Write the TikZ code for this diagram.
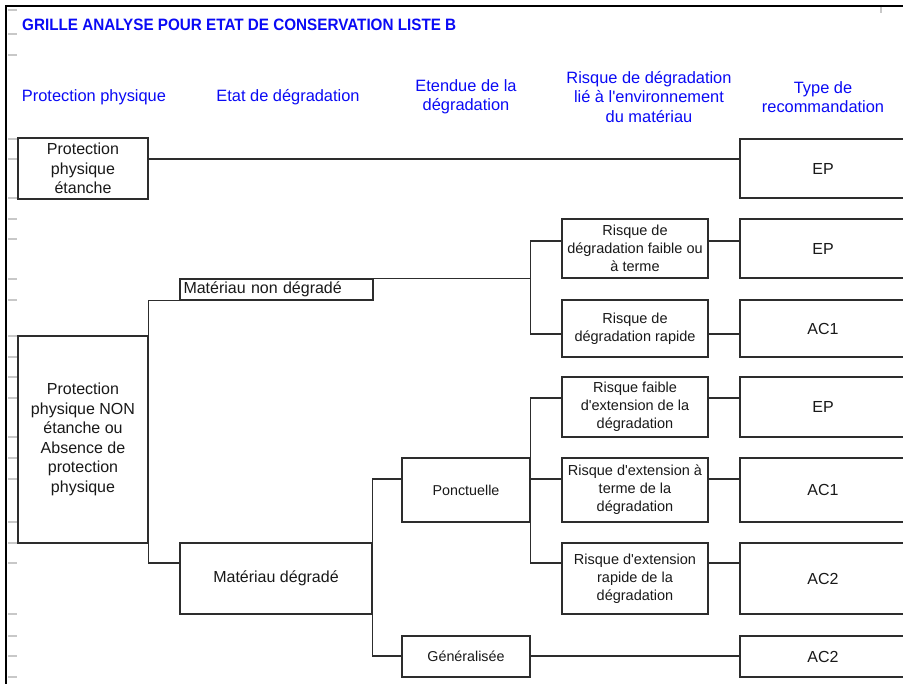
\documentclass[tikz,border=0pt]{standalone}
\usepackage{fontspec}
\setmainfont{Liberation Sans}[Ligatures=TeXOff]
\usepackage{graphicx}
\definecolor{hdrblue}{RGB}{10,10,245}
\definecolor{lnc}{RGB}{45,45,45}
\definecolor{tickc}{RGB}{200,200,200}
\begin{document}
\begin{tikzpicture}[x=1pt,y=-1pt,
  box/.style={draw=lnc, line width=1.2pt, fill=white, inner sep=0pt, align=center,
    font=\fontsize{16}{19.5}\selectfont, text=black!90},
  smallbox/.style={box, font=\fontsize{14.5}{18}\selectfont},
  midbox/.style={box, font=\fontsize{14.3}{18}\selectfont},
  hdr/.style={text=hdrblue, align=center, font=\fontsize{16.4}{19.5}\selectfont, inner sep=0pt},
  conn/.style={draw=lnc, line width=1.2pt},
  tick/.style={draw=tickc, line width=1.2pt}]
\useasboundingbox (0,0) rectangle (903,684);
\clip (0,0) rectangle (903,684);
\fill[white] (0,0) rectangle (903,684);
% frame
\draw[black, line width=2pt] (6,684) -- (6,6) -- (903,6);
% spreadsheet row ticks
\foreach \yy in {10,34,55,139,159,198,219,239,279,300,336,357,377,398,437,458,479,522,543,563,614,636,656,677}
  \draw[tick] (8,\yy) -- (17,\yy);
\draw[tick] (881,7) -- (881,13);
% title
\node[anchor=base west, inner sep=0pt, text=hdrblue] (title) at (22,30.5)
  {\resizebox{434pt}{11.5pt}{\bfseries GRILLE ANALYSE POUR ETAT DE CONSERVATION LISTE B}};
% headers
\node[hdr] (h1) at (94,97) {Protection physique};
\node[hdr] (h2) at (288,97) {Etat de dégradation};
\node[hdr] (h3) at (466,97) {Etendue de la\\dégradation};
\node[hdr] (h4) at (649,97) {Risque de dégradation\\lié à l'environnement\\du matériau};
\node[hdr] (h5) at (823,97) {Type de\\recommandation};
% row coordinates
\foreach \yy in {159,241,279,334,398,479,563,656}
  \coordinate (y\yy) at (0,\yy);
% column 1
\node[box, minimum width=130pt, minimum height=61pt] (ppe) at (83,168.5) {Protection\\physique\\étanche};
\node[box, minimum width=130pt, minimum height=207pt] (ppne) at (83,439.5) {Protection\\physique NON\\étanche ou\\Absence de\\protection\\physique};
% column 2
\node[box, minimum width=193pt, minimum height=21pt, text width=186pt, inner xsep=3.5pt, align=left] (mnd) at (276.5,289.5) {Matériau non dégradé};
\node[box, minimum width=192pt, minimum height=71pt] (md) at (276,578.5) {Matériau dégradé};
% column 3
\node[midbox, minimum width=128pt, minimum height=64pt] (pon) at (466,490) {Ponctuelle};
\node[midbox, minimum width=128pt, minimum height=41pt] (gen) at (466,656.5) {Généralisée};
% column 4
\node[smallbox, minimum width=146pt, minimum height=59pt] (r1) at (635,248.5) {Risque de\\dégradation faible ou\\à terme};
\node[smallbox, minimum width=146pt, minimum height=57pt] (r2) at (635,328.5) {Risque de\\dégradation rapide};
\node[smallbox, minimum width=146pt, minimum height=60pt] (r3) at (635,407) {Risque faible\\d'extension de la\\dégradation};
\node[smallbox, minimum width=146pt, minimum height=64pt] (r4) at (635,490) {Risque d'extension à\\terme de la\\dégradation};
\node[smallbox, minimum width=146pt, minimum height=71pt] (r5) at (635,578.5) {Risque d'extension\\rapide de la\\dégradation};
% column 5
\node[box, minimum width=166pt, minimum height=59pt] (t1) at (823,168.5) {EP};
\node[box, minimum width=166pt, minimum height=59pt] (t2) at (823,248.5) {EP};
\node[box, minimum width=166pt, minimum height=57pt] (t3) at (823,328.5) {AC1};
\node[box, minimum width=166pt, minimum height=60pt] (t4) at (823,407) {EP};
\node[box, minimum width=166pt, minimum height=64pt] (t5) at (823,490) {AC1};
\node[box, minimum width=166pt, minimum height=71pt] (t6) at (823,578.5) {AC2};
\node[box, minimum width=166pt, minimum height=41pt] (t7) at (823,656.5) {AC2};
% connectors
\draw[conn] (ppe.east |- y159) -- (t1.west |- y159);
\draw[conn] (ppne.north east) |- (mnd.south west);
\draw[conn] (ppne.south east) |- (md.west |- y563);
\draw[conn] (mnd.north east) -- (pon.east |- mnd.north east);
\draw[conn] (r1.west |- y241) -| (pon.east |- y334) -- (r2.west |- y334);
\draw[conn] (r1.east |- y241) -- (t2.west |- y241);
\draw[conn] (r2.east |- y334) -- (t3.west |- y334);
\draw[conn] (pon.west |- y479) -| (md.east |- y656) -- (gen.west |- y656);
\draw[conn] (r3.west |- y398) -| (pon.east |- y563) -- (r5.west |- y563);
\draw[conn] (pon.east |- y479) -- (r4.west |- y479);
\draw[conn] (r3.east |- y398) -- (t4.west |- y398);
\draw[conn] (r4.east |- y479) -- (t5.west |- y479);
\draw[conn] (r5.east |- y563) -- (t6.west |- y563);
\draw[conn] (gen.east |- y656) -- (t7.west |- y656);
\end{tikzpicture}
\end{document}
